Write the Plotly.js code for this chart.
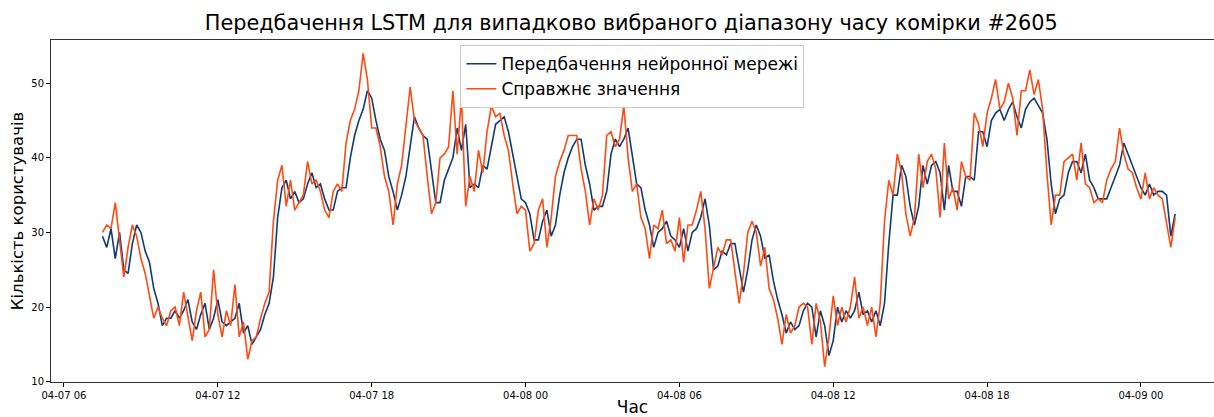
<!DOCTYPE html>
<html>
<head>
<meta charset="utf-8">
<script src="https://cdn.plot.ly/plotly-3.0.1.min.js"></script>
<style>html,body{margin:0;padding:0;background:#fff;overflow:hidden}</style>
</head>
<body>
<div id="chart" style="width:1214px;height:417px"></div>
<script>
// Series start time and sampling step (10 minutes)
const startTime = "2024-04-07 07:30";
const stepMinutes = 10;

// Справжнє значення (true values)
const trueValues = [
  30.0, 31.0, 30.5,
  34.0, 29.0, 24.0, 28.0, 31.0, 29.5,
  26.5, 24.5, 21.5, 18.5, 20.0, 18.5,
  17.5, 19.5, 20.0, 17.5, 22.0, 18.5,
  15.5, 19.5, 22.0, 16.0, 17.0, 25.0,
  19.0, 16.0, 19.5, 17.5, 23.0, 16.0,
  18.0, 13.0, 15.5, 16.0, 18.5, 20.5,
  22.0, 31.5, 37.0, 39.0, 33.5, 37.0,
  33.0, 34.0, 35.0, 39.5, 36.5, 37.0,
  35.5, 33.0, 32.0, 35.5, 36.5, 35.5,
  42.0, 45.0, 46.5, 49.0, 54.0, 50.5,
  44.0, 44.0, 41.5, 37.5, 35.5, 31.0,
  36.5, 39.0, 44.0, 49.5, 45.0, 44.0,
  43.0, 37.5, 32.5, 34.0, 40.0, 40.5,
  41.5, 49.0, 40.5, 48.0, 33.5, 37.5,
  35.5, 41.0, 38.0, 43.5, 47.0, 45.5,
  46.0, 43.0, 41.0, 36.5, 32.5, 33.5,
  33.0, 27.5, 28.5, 33.0, 34.5, 28.0,
  32.0, 37.5, 39.5, 41.0, 43.0, 43.0,
  43.0, 38.5, 35.5, 31.0, 34.5, 33.0,
  35.0, 43.0, 43.5, 41.5, 42.5, 47.0,
  40.0, 35.5, 36.5, 32.0, 30.5, 26.5,
  31.0, 30.5, 33.0, 28.5, 29.0, 27.5,
  32.0, 26.0, 31.0, 31.0, 33.0, 35.5,
  30.5, 22.5, 25.5, 28.0, 27.0, 29.0,
  29.0, 24.5, 20.5, 24.5, 30.0, 31.5,
  30.0, 25.5, 28.0, 22.5, 21.0, 18.5,
  15.0, 19.0, 16.5, 17.5, 20.0, 20.5,
  20.0, 15.0, 20.5, 18.0, 12.0, 16.0,
  21.5, 17.5, 20.0, 18.0, 20.0, 24.0,
  18.5, 20.0, 17.5, 20.0, 16.0, 20.5,
  31.5, 37.0, 35.0, 40.5, 38.0, 32.5,
  29.5, 32.0, 40.5, 36.0, 39.5, 40.5,
  38.5, 32.0, 42.0, 34.5, 36.0, 33.0,
  39.5, 37.5, 37.0, 46.0, 44.5, 41.5,
  46.0, 48.0, 50.5, 46.5, 47.5, 50.0,
  48.0, 43.0, 49.0, 49.0, 51.8, 48.5,
  50.5, 46.5, 38.0, 31.0, 35.0, 35.0,
  39.5, 40.0, 40.5, 37.0, 42.0, 36.5,
  36.0, 34.0, 34.5, 34.0, 37.0, 38.5,
  39.5, 44.0, 40.5, 38.5, 38.0, 36.0,
  34.5, 38.0, 34.5, 36.0, 35.0, 34.5,
  31.0, 28.0, 32.0
];

// Передбачення нейронної мережі (predicted values)
const predictedValues = [
  29.5, 28.0, 30.5,
  26.5, 30.0, 25.0, 24.5, 28.5, 31.0,
  30.0, 27.5, 26.0, 22.5, 20.5, 17.5,
  18.5, 18.5, 19.5, 18.5, 19.5, 21.0,
  18.0, 17.0, 19.0, 20.5, 17.0, 18.5,
  21.0, 18.0, 17.5, 18.0, 18.5, 20.5,
  16.5, 17.5, 15.0, 16.0, 17.0, 19.0,
  20.5, 24.0, 32.0, 36.0, 37.0, 34.5,
  35.5, 34.0, 34.5, 36.5, 38.0, 36.0,
  36.5, 34.5, 33.0, 33.0, 35.5, 36.0,
  36.0, 40.0, 43.0, 45.0, 46.5, 49.0,
  48.0, 45.0, 42.5, 41.0, 37.5, 35.5,
  33.0, 35.0, 37.5, 41.5, 45.5, 44.0,
  43.0, 42.5, 38.5, 34.0, 34.0, 37.0,
  38.5, 40.0, 44.0, 41.0, 44.5, 36.0,
  36.5, 36.0, 39.0, 38.5, 41.5, 44.5,
  45.0, 45.5, 43.5, 40.5, 37.0, 34.5,
  34.0, 32.5, 29.0, 29.0, 31.5, 33.0,
  29.5, 31.0, 35.0, 38.0, 40.0, 41.5,
  42.5, 42.5, 39.0, 36.5, 33.0, 33.5,
  33.5, 35.5, 40.5, 42.5, 41.5, 42.5,
  44.0, 40.0, 36.5, 36.0, 33.0, 31.0,
  28.0, 30.0, 30.5, 31.5, 29.5, 29.0,
  28.0, 30.5, 27.5, 30.0, 30.5, 32.0,
  34.5, 31.0, 25.0, 25.5, 27.5, 27.0,
  28.5, 28.5, 25.0, 22.0, 25.0, 29.0,
  31.0, 29.5, 26.5, 27.0, 23.5, 21.0,
  19.0, 16.5, 18.0, 17.0, 17.5, 19.5,
  20.5, 20.0, 16.0, 19.5, 17.5, 13.5,
  15.5, 20.0, 18.0, 19.5, 18.5, 19.5,
  22.0, 19.0, 19.5, 18.0, 19.5, 17.5,
  20.5, 28.5, 35.0, 35.0, 39.0, 37.5,
  33.5, 31.0, 33.5, 39.0, 36.5, 39.0,
  39.5, 38.0, 33.0, 39.0, 35.5, 35.5,
  33.5, 37.5, 37.5, 37.0, 43.5, 43.5,
  41.5, 45.0, 46.0, 46.5, 45.0, 46.5,
  47.5, 45.5, 44.0, 46.5, 47.5, 48.0,
  47.0, 46.0, 42.5, 36.5, 32.5, 34.5,
  35.0, 38.0, 39.5, 39.5, 38.0, 40.5,
  37.0, 36.0, 34.5, 34.5, 34.5, 36.0,
  37.5, 39.0, 42.0, 40.5, 39.0, 37.5,
  36.0, 35.0, 36.5, 35.0, 35.5, 35.5,
  35.0, 29.5, 32.5
];

const tickValues = ["2024-04-07 06:00","2024-04-07 12:00","2024-04-07 18:00","2024-04-08 00:00",
                    "2024-04-08 06:00","2024-04-08 12:00","2024-04-08 18:00","2024-04-09 00:00"];
const tickLabels = ["04-07 06","04-07 12","04-07 18","04-08 00","04-08 06","04-08 12","04-08 18","04-09 00"];

function pad(n){return (n<10?"0":"")+n;}
function fmt(d){return d.getUTCFullYear()+"-"+pad(d.getUTCMonth()+1)+"-"+pad(d.getUTCDate())+" "+pad(d.getUTCHours())+":"+pad(d.getUTCMinutes());}
const t0 = Date.parse(startTime.replace(" ","T")+":00Z");
const times = trueValues.map((_, i) => fmt(new Date(t0 + i*stepMinutes*60000)));

const font = "DejaVu Sans, sans-serif";
const traces = [
  {x: times, y: predictedValues, type: "scatter", mode: "lines",
   name: "Передбачення нейронної мережі", line: {color: "#0e3a78", width: 1.6}},
  {x: times, y: trueValues, type: "scatter", mode: "lines",
   name: "Справжнє значення", line: {color: "#ff4a12", width: 1.6}}
];

const layout = {
  width: 1214, height: 417,
  margin: {l: 51, r: 0, t: 40, b: 35, pad: 0},
  paper_bgcolor: "#fff", plot_bgcolor: "#fff",
  font: {family: font, color: "#000"},
  title: {text: "Передбачення LSTM для випадково вибраного діапазону часу комірки #2605",
          font: {family: font, size: 20.8, color: "#000"}, x: 0.52, xanchor: "center", y: 0.945, yanchor: "middle"},
  showlegend: true,
  legend: {x: 0.352, xanchor: "left", y: 0.985, yanchor: "top", bgcolor: "rgba(255,255,255,0.9)",
           bordercolor: "#cccccc", borderwidth: 1, font: {family: font, size: 17, color: "#000"},
           tracegroupgap: 0},
  xaxis: {
    type: "date",
    range: ["2024-04-07 05:29:36", "2024-04-09 02:51:00"],
    tickmode: "array", tickvals: tickValues, ticktext: tickLabels,
    ticks: "outside", ticklen: 4, tickcolor: "#000", tickwidth: 1,
    tickfont: {family: font, size: 10, color: "#000"},
    showgrid: false, zeroline: false,
    showline: true, linecolor: "#333", linewidth: 1, mirror: true,
    title: {text: "Час", font: {family: font, size: 17, color: "#000"}, standoff: 3}
  },
  yaxis: {
    range: [9.95, 55.8],
    tickmode: "array", tickvals: [10, 20, 30, 40, 50],
    ticks: "outside", ticklen: 4, tickcolor: "#000", tickwidth: 1,
    tickfont: {family: font, size: 10, color: "#000"},
    showgrid: false, zeroline: false,
    showline: true, linecolor: "#333", linewidth: 1, mirror: false,
    title: {text: "Кількість користувачів", font: {family: font, size: 16.5, color: "#000"}, standoff: 3}
  }
};

Plotly.newPlot("chart", traces, layout, {displayModeBar: false, staticPlot: true});
</script>
</body>
</html>
